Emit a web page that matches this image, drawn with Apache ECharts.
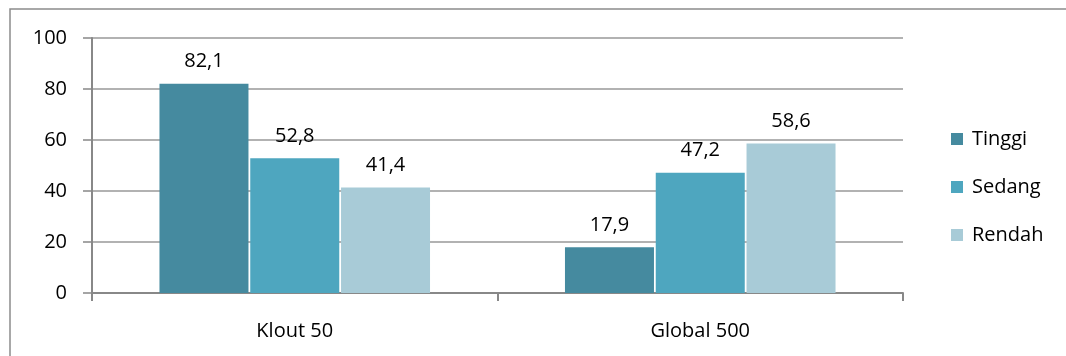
<!DOCTYPE html>
<html><head><meta charset="utf-8">
<script src="https://cdn.jsdelivr.net/npm/echarts@6/dist/echarts.min.js"></script>
<style>html,body{margin:0;padding:0;background:#fff}#c{width:1066px;height:356px}</style>
</head><body><div id="c"></div>
<script>
const categories = ['Klout 50', 'Global 500'];
const seriesNames = ['Tinggi', 'Sedang', 'Rendah'];
const tinggi = [82.1, 17.9];
const sedang = [52.8, 47.2];
const rendah = [41.4, 58.6];
const colors = ['#458A9F', '#4EA6BF', '#A8CBD7'];
const FONT = '"Open Sans", Lato, sans-serif';
const chart = echarts.init(document.getElementById('c'));
const mk = (name, data, color) => ({
  name, type: 'bar', data, barWidth: 89, barGap: '2%',
  itemStyle: { color },
  label: { show: true, position: 'top', distance: 12, color: '#000', fontSize: 20, fontFamily: FONT,
    formatter: p => String(p.value).replace('.', ',') }
});
chart.setOption({
  animation: false,
  graphic: [{ type: 'rect', shape: { x: 10, y: 9, width: 1100, height: 400 },
    style: { fill: 'none', stroke: '#8c8c8c', lineWidth: 1.5 }, silent: true }],
  grid: { left: 92, right: 163, top: 38, bottom: 63 },
  legend: { orient: 'vertical', left: 946, top: 124, itemWidth: 12, itemHeight: 12, itemGap: 28,
    icon: 'rect', textStyle: { fontSize: 20, fontFamily: FONT, color: '#000', padding: [0, 0, 0, 4] },
    data: seriesNames },
  xAxis: { type: 'category', data: categories,
    axisLine: { lineStyle: { color: '#888', width: 2 } },
    axisTick: { show: true, length: 8, lineStyle: { color: '#888', width: 2 } },
    axisLabel: { fontSize: 20, fontFamily: FONT, color: '#000', margin: 28 } },
  yAxis: { type: 'value', min: 0, max: 100, interval: 20,
    axisLine: { show: true, lineStyle: { color: '#888', width: 2 } },
    axisTick: { show: true, inside: false, length: 9, lineStyle: { color: '#888', width: 1.5 } },
    splitLine: { lineStyle: { color: '#999', width: 1.5 } },
    axisLabel: { fontSize: 20, fontFamily: FONT, color: '#000', margin: 25 } },
  series: [mk(seriesNames[0], tinggi, colors[0]), mk(seriesNames[1], sedang, colors[1]), mk(seriesNames[2], rendah, colors[2])]
});
</script></body></html>
